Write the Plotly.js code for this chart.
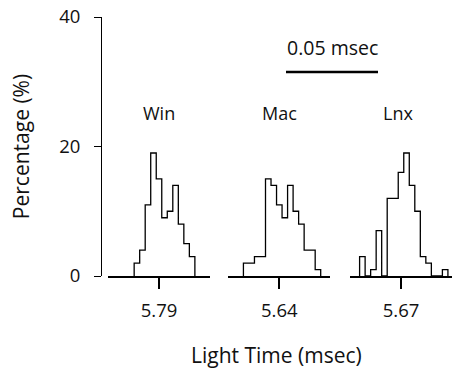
<!DOCTYPE html>
<html>
<head>
<meta charset="utf-8">
<script src="https://cdn.plot.ly/plotly-3.0.1.min.js"></script>
<style>html,body{margin:0;padding:0;background:#fff;}#chart{width:452px;height:368px;}</style>
</head>
<body>
<div id="chart"></div>
<script>
// ---- data ----
const panelNames = ["Win", "Mac", "Lnx"];
const panelCenters = [5.79, 5.64, 5.67];
const tickLabels = ["5.79", "5.64", "5.67"];
const binWidth = 0.003; // msec
const winX = [5.778, 5.781, 5.784, 5.787, 5.790, 5.793, 5.796, 5.799, 5.802, 5.805, 5.808];
const winPct = [2, 4, 11, 19, 15, 9, 10, 14, 8, 5, 3];
const macX = [5.622, 5.625, 5.628, 5.631, 5.634, 5.637, 5.640, 5.643, 5.646, 5.649, 5.652, 5.655, 5.658, 5.661];
const macPct = [2, 2, 3, 3, 15, 14, 11, 9, 14, 10, 8, 4, 4, 1];
const lnxX = [5.649, 5.652, 5.655, 5.658, 5.661, 5.664, 5.667, 5.670, 5.673, 5.676, 5.679, 5.682, 5.685, 5.688, 5.691, 5.694];
const lnxPct = [3, 0, 1, 7, 0, 12, 12, 16, 19, 14, 10, 3, 2, 0, 0, 1];
const scaleBarLength = 0.05; // msec
const scaleBarLabel = "0.05 msec";
const yTicks = [0, 20, 40];

// ---- helpers ----
function outline(centers, pct) {
  const xs = [centers[0] - binWidth / 2];
  const ys = [0];
  for (let i = 0; i < centers.length; i++) {
    xs.push(centers[i] - binWidth / 2);
    ys.push(pct[i]);
  }
  xs.push(centers[centers.length - 1] + binWidth / 2);
  ys.push(0);
  return {xs, ys};
}

const pxPerMsec = 1840;
const plotW = 351;
const halfW = 51 / pxPerMsec;
const domains = [[7 / plotW, 109 / plotW], [127.3 / plotW, 229.3 / plotW], [249 / plotW, 1]];
const series = [[winX, winPct], [macX, macPct], [lnxX, lnxPct]];
const axNames = ["x", "x2", "x3"];
const txtColor = "#111";
const fam = "Open Sans, sans-serif";
const font = {family: fam, size: 18, color: txtColor};
const tickFont = {family: fam, size: 18.5, color: txtColor};
const titleFont = {family: fam, size: 21, color: txtColor};

const traces = series.map((s, i) => {
  const o = outline(s[0], s[1]);
  return {
    type: "scatter", mode: "lines", x: o.xs, y: o.ys,
    line: {shape: "hv", color: "#000", width: 1.3},
    xaxis: axNames[i], yaxis: "y", hoverinfo: "skip", showlegend: false, cliponaxis: false
  };
});

// scale bar on a full-width hidden axis
const sbStart = 185 / pxPerMsec;
traces.push({
  type: "scatter", mode: "lines",
  x: [sbStart, sbStart + scaleBarLength], y: [31.5, 31.5],
  line: {color: "#000", width: 2.5},
  xaxis: "x4", yaxis: "y", hoverinfo: "skip", showlegend: false
});

const layout = {
  width: 452, height: 368,
  margin: {l: 101, r: 0, t: 17, b: 92},
  paper_bgcolor: "#fff", plot_bgcolor: "rgba(0,0,0,0)",
  font: font,
  showlegend: false,
  yaxis: {
    range: [0, 40], anchor: "free", position: 0,
    tickvals: yTicks, ticks: "outside", ticklen: 7, tickwidth: 1, tickcolor: "#000",
    showline: true, linecolor: "#000", linewidth: 1,
    showgrid: false, zeroline: false,
    tickfont: tickFont, ticklabelstandoff: 10,
    title: {text: "Percentage (%)", font: titleFont, standoff: 22}
  },
  xaxis4: {domain: [0, 1], range: [0, plotW / pxPerMsec], anchor: "y", visible: false, fixedrange: true},
  annotations: [],
};

for (let i = 0; i < 3; i++) {
  const key = i === 0 ? "xaxis" : "xaxis" + (i + 1);
  layout[key] = {
    domain: domains[i], anchor: "y",
    range: [panelCenters[i] - halfW, panelCenters[i] + halfW],
    tickvals: [panelCenters[i]], ticktext: [tickLabels[i]],
    ticks: "outside", ticklen: 11, tickwidth: 2.2, tickcolor: "#000",
    showline: true, linecolor: "#000", linewidth: 1.6,
    showgrid: false, zeroline: false, tickfont: tickFont, ticklabelstandoff: 6
  };
  layout.annotations.push({
    xref: axNames[i], yref: "y", x: panelCenters[i] + (i === 2 ? -0.0015 : 0), y: 25.2,
    text: panelNames[i], showarrow: false, font: font, xanchor: "center", yanchor: "middle"
  });
}

layout.annotations.push({
  xref: "x4", yref: "y", x: sbStart + scaleBarLength / 2, y: 35.3,
  text: scaleBarLabel, showarrow: false, font: {family: fam, size: 19.5, color: txtColor},
  xanchor: "center", yanchor: "middle"
});
layout.annotations.push({
  xref: "paper", yref: "paper", x: 0.5, y: (276 - 355) / 259,
  text: "Light Time (msec)", showarrow: false, font: titleFont, xanchor: "center", yanchor: "middle"
});

Plotly.newPlot("chart", traces, layout, {displayModeBar: false, staticPlot: true});
</script>
</body>
</html>
